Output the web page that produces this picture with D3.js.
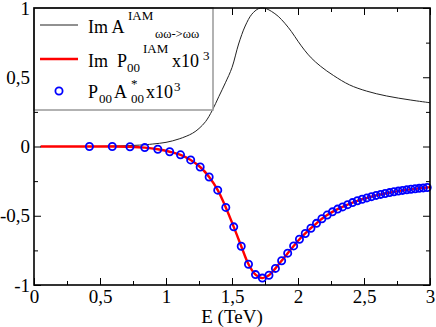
<!DOCTYPE html>
<html>
<head>
<meta charset="utf-8">
<script src="https://cdn.jsdelivr.net/npm/d3@7"></script>
<style>
  body { margin: 0; background: #fff; }
  svg, svg text { font-family: "Liberation Serif" !important; }
</style>
</head>
<body>
<div class="chart"></div>
<script>
// data
var imAE = [0.05, 0.4, 0.6, 0.8, 0.9, 1.0, 1.1, 1.2, 1.25, 1.3, 1.35, 1.4, 1.45, 1.5, 1.55, 1.6, 1.65, 1.7, 1.73, 1.76, 1.8, 1.85, 1.9, 1.95, 2.0, 2.05, 2.1, 2.17, 2.27, 2.39, 2.52, 2.67, 2.85, 3.0];
var imAV = [0, 0, 0.003, 0.01, 0.018, 0.03, 0.055, 0.095, 0.13, 0.18, 0.26, 0.36, 0.46, 0.57, 0.74, 0.87, 0.955, 0.995, 1.0, 0.995, 0.975, 0.94, 0.89, 0.83, 0.76, 0.695, 0.64, 0.58, 0.512, 0.445, 0.40, 0.365, 0.336, 0.316];

var pE = [0.420, 0.593, 0.727, 0.839, 0.938, 1.028, 1.110, 1.187, 1.259, 1.327, 1.392, 1.453, 1.513, 1.570, 1.625, 1.678, 1.730, 1.780, 1.829, 1.876,
          1.922, 1.967, 2.011, 2.055, 2.098, 2.140, 2.181, 2.221, 2.261, 2.300, 2.338, 2.376, 2.413, 2.450, 2.486, 2.522, 2.557, 2.592, 2.626, 2.660,
          2.694, 2.727, 2.760, 2.792, 2.824, 2.856, 2.887, 2.918, 2.949, 2.979];
var pV = [0.000, 0.000, -0.002, -0.008, -0.020, -0.038, -0.060, -0.097, -0.148, -0.220, -0.315, -0.440, -0.580, -0.720, -0.850, -0.925, -0.950, -0.930, -0.880, -0.825,
          -0.770, -0.718, -0.670, -0.628, -0.590, -0.555, -0.522, -0.495, -0.472, -0.452, -0.436, -0.420, -0.405, -0.392, -0.381, -0.371, -0.362, -0.353, -0.346, -0.339,
          -0.333, -0.327, -0.322, -0.317, -0.313, -0.309, -0.305, -0.302, -0.299, -0.296];

// red line = same curve, drawn from near zero to the end of the axis
var lineE = [0.05, 0.25].concat(pE, [3.0]);
var lineV = [0, 0].concat(pV, [-0.294]);

var xMajor = [0, 0.5, 1, 1.5, 2, 2.5, 3];
var xMinor = [0.25, 0.75, 1.25, 1.75, 2.25, 2.75];
var yMajor = [-1, -0.5, 0, 0.5, 1];
var yMinor = [-0.75, -0.25, 0.25, 0.75];

const W = 436, H = 327;
var margin = {top: 8, right: 6, bottom: 42, left: 34};

var svg = d3.select('.chart')
            .append('svg')
            .attr('width', W)
            .attr('height', H)
            .style('font-family', 'Liberation Serif');

var x = d3.scaleLinear().domain([0, 3]).range([margin.left, W - margin.right]);
var y = d3.scaleLinear().domain([-1, 1]).range([H - margin.bottom, margin.top]);

const fmt = d => String(d).replace('.', ',');

// curves
var line = d3.line()
             .x(d => x(d[0]))
             .y(d => y(d[1]))
             .curve(d3.curveCatmullRom);

svg.append('path')
   .attr('d', line(d3.zip(imAE, imAV)))
   .attr('fill', 'none')
   .attr('stroke', '#222')
   .attr('stroke-width', 1);

svg.append('path')
   .attr('d', line(d3.zip(lineE, lineV)))
   .attr('fill', 'none')
   .attr('stroke', '#ff0000')
   .attr('stroke-width', 2.4);

svg.selectAll('.pt')
   .data(d3.zip(pE, pV))
   .enter()
   .append('circle')
   .attr('class', 'pt')
   .attr('cx', d => x(d[0]))
   .attr('cy', d => y(d[1]))
   .attr('r', 3.6)
   .attr('fill', 'none')
   .attr('stroke', '#0000ff')
   .attr('stroke-width', 1.8);

// axes, ticks point inward on all four sides
function styleAxis(g) {
    g.attr('font-family', 'Liberation Serif').attr('font-size', 19);
    g.select('.domain').remove();
    g.selectAll('line').attr('stroke', '#000').attr('stroke-width', 1);
    g.selectAll('text').attr('fill', '#000');
}

var yB = H - margin.bottom, xR = W - margin.right;

svg.append('g').attr('transform', `translate(0,${yB})`)
   .call(d3.axisBottom(x).tickValues(xMajor).tickSize(-7).tickPadding(5).tickFormat(fmt)).call(styleAxis);
svg.append('g').attr('transform', `translate(0,${yB})`)
   .call(d3.axisBottom(x).tickValues(xMinor).tickSize(-4).tickFormat('')).call(styleAxis);
svg.append('g').attr('transform', `translate(0,${margin.top})`)
   .call(d3.axisTop(x).tickValues(xMajor).tickSize(-7).tickFormat('')).call(styleAxis);
svg.append('g').attr('transform', `translate(0,${margin.top})`)
   .call(d3.axisTop(x).tickValues(xMinor).tickSize(-4).tickFormat('')).call(styleAxis);

svg.append('g').attr('transform', `translate(${margin.left},0)`)
   .call(d3.axisLeft(y).tickValues(yMajor).tickSize(-7).tickPadding(4).tickFormat(fmt)).call(styleAxis);
svg.append('g').attr('transform', `translate(${margin.left},0)`)
   .call(d3.axisLeft(y).tickValues(yMinor).tickSize(-4).tickFormat('')).call(styleAxis);
svg.append('g').attr('transform', `translate(${xR},0)`)
   .call(d3.axisRight(y).tickValues(yMajor).tickSize(-7).tickFormat('')).call(styleAxis);
svg.append('g').attr('transform', `translate(${xR},0)`)
   .call(d3.axisRight(y).tickValues(yMinor).tickSize(-4).tickFormat('')).call(styleAxis);

svg.append('text')
   .attr('x', (margin.left + xR) / 2)
   .attr('y', 323)
   .attr('text-anchor', 'middle')
   .attr('font-size', 19)
   .text('E (TeV)');

// legend
var lg = svg.append('g').attr('class', 'legend');
lg.append('rect')
  .attr('x', margin.left).attr('y', margin.top)
  .attr('width', 213 - margin.left).attr('height', 110 - margin.top)
  .attr('fill', '#fff')
  .attr('stroke', '#999')
  .attr('stroke-width', 1.5);

lg.append('line').attr('x1', 40).attr('x2', 78).attr('y1', 25).attr('y2', 25)
  .attr('stroke', '#222').attr('stroke-width', 1);
lg.append('line').attr('x1', 40).attr('x2', 78).attr('y1', 59).attr('y2', 59)
  .attr('stroke', '#ff0000').attr('stroke-width', 2.4);
lg.append('circle').attr('cx', 59).attr('cy', 91).attr('r', 3.6)
  .attr('fill', 'none').attr('stroke', '#0000ff').attr('stroke-width', 1.8);

// text pieces: [string, x, baseline, size]
var legendText = [
    ['Im A', 88, 33, 18], ['IAM', 128, 20, 13], ['\u03c9\u03c9->\u03c9\u03c9', 155, 38, 12.5],
    ['Im  P', 88, 67, 18], ['00', 127, 72, 13], ['IAM', 143, 53, 13], ['x10', 172, 67, 18], ['3', 203, 60, 13],
    ['P', 88, 98, 18], ['00', 99, 103, 13], ['A', 114, 98, 18], ['*', 131, 88, 13], ['00', 131, 103, 13], ['x10', 146, 98, 18], ['3', 174, 91, 13]
];

lg.selectAll('.lt')
  .data(legendText)
  .enter()
  .append('text')
  .attr('class', 'lt')
  .attr('x', d => d[1])
  .attr('y', d => d[2])
  .attr('font-size', d => d[3])
  .attr('xml:space', 'preserve')
  .text(d => d[0]);

// frame
svg.append('rect')
   .attr('x', margin.left).attr('y', margin.top)
   .attr('width', xR - margin.left).attr('height', yB - margin.top)
   .attr('fill', 'none')
   .attr('stroke', '#000')
   .attr('stroke-width', 1.6);
</script>
</body>
</html>
